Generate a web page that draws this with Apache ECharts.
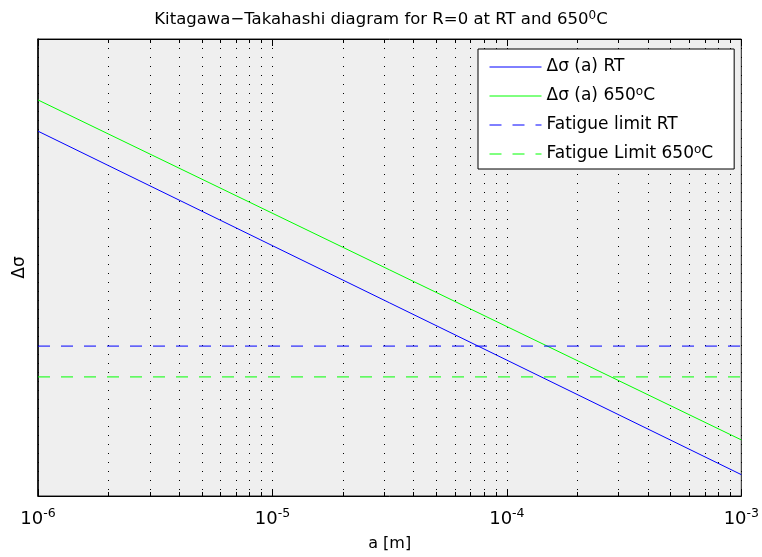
<!DOCTYPE html>
<html><head><meta charset="utf-8">
<script src="https://cdn.jsdelivr.net/npm/echarts@6/dist/echarts.min.js"></script>
<style>html,body{margin:0;padding:0;background:#fff}#c{width:762px;height:557px}</style>
</head><body><div id="c"></div>
<script>
// ---- data ----
const crackLength = [1e-6, 1e-3];          // a [m]
const deltaSigmaRT = [3950, 124];           // Δσ(a) RT
const deltaSigma650 = [5410, 176];          // Δσ(a) 650°C
const fatigueLimitRT = [453, 453];
const fatigueLimit650 = [332, 332];
const xTickValues = [1e-6, 1e-5, 1e-4, 1e-3];
const seriesNames = ['Δσ (a) RT', 'Δσ (a) 650°C', 'Fatigue limit RT', 'Fatigue Limit 650°C'];

const minorTicks = [];
for (let d = 0; d < xTickValues.length - 1; d++) {
  for (let k = 2; k <= 9; k++) minorTicks.push(+(k * xTickValues[d]).toPrecision(3));
}
const FONT = '"DejaVu Sans", "Liberation Sans", Arial, sans-serif';
const zip = (xs, ys) => xs.map((x, i) => [x, ys[i]]);

const baseX = { type: 'log', logBase: 10, min: 1e-6, max: 1e-3, gridIndex: 0 };
const chart = echarts.init(document.getElementById('c'));
chart.setOption({
  animation: false,
  backgroundColor: '#fff',
  title: {
    text: 'Kitagawa−Takahashi diagram for R=0 at RT and 650{sup|0}C',
    left: 'center', top: 5,
    textStyle: { fontFamily: FONT, fontSize: 16.5, fontWeight: 'normal', color: '#000',
      rich: { sup: { fontFamily: FONT, fontSize: 12, color: '#000', padding: [0, 0, 8, 0] } } }
  },
  grid: { left: 38, right: 18, top: 39, bottom: 61, show: true, backgroundColor: '#efefef',
    borderColor: '#222', borderWidth: 1 },
  legend: {
    orient: 'vertical', left: 478, top: 49,
    backgroundColor: '#fff', borderColor: '#000', borderWidth: 1, borderRadius: 0,
    padding: [8, 21, 5, 11], itemWidth: 52, itemHeight: 14, itemGap: 9,
    icon: 'inherit',
    lineStyle: { width: 1 },
    itemStyle: { opacity: 0 },
    data: seriesNames,
    formatter: n => n.replace('°', '{sup|o}'),
    textStyle: { fontFamily: FONT, fontSize: 17, color: '#000', lineHeight: 20,
      rich: { sup: { fontFamily: FONT, fontSize: 12, color: '#000', lineHeight: 20, padding: [0, 0, 8, 0] } } }
  },
  xAxis: [
    Object.assign({}, baseX, {
      position: 'bottom', name: 'a [m]', nameLocation: 'middle', nameGap: 40,
      nameTextStyle: { fontFamily: FONT, fontSize: 16, color: '#000' },
      axisLine: { show: true, onZero: false, lineStyle: { color: '#000', width: 1 } },
      axisTick: { show: true, inside: true, length: 7, customValues: xTickValues, lineStyle: { color: '#000' } },
      axisLabel: { show: true, customValues: xTickValues, margin: 11, color: '#000',
        fontFamily: FONT, fontSize: 18,
        formatter: v => '10{s|' + Math.round(Math.log10(v)) + '}',
        rich: { s: { fontFamily: FONT, fontSize: 12.5, color: '#000', padding: [0, 0, 11, 0] } } },
      splitLine: { show: true, lineStyle: { color: '#000', width: 1, type: [1, 8] } }
    }),
    Object.assign({}, baseX, {
      position: 'bottom',
      axisLine: { show: false, onZero: false },
      axisTick: { show: true, inside: true, length: 4, customValues: minorTicks, lineStyle: { color: '#000' } },
      axisLabel: { show: false },
      splitLine: { show: true, lineStyle: { color: '#000', width: 1, type: [1, 8] } }
    }),
    Object.assign({}, baseX, {
      position: 'top',
      axisLine: { show: true, onZero: false, lineStyle: { color: '#000', width: 1 } },
      axisTick: { show: true, inside: true, length: 7, customValues: xTickValues, lineStyle: { color: '#000' } },
      axisLabel: { show: false },
      splitLine: { show: false }
    }),
    Object.assign({}, baseX, {
      position: 'top',
      axisLine: { show: false, onZero: false },
      axisTick: { show: true, inside: true, length: 4, customValues: minorTicks, lineStyle: { color: '#000' } },
      axisLabel: { show: false },
      splitLine: { show: false }
    })
  ],
  yAxis: {
    type: 'log', logBase: 10, min: 100, max: 10000,
    name: 'Δσ', nameLocation: 'middle', nameGap: 10,
    nameTextStyle: { fontFamily: FONT, fontSize: 17, color: '#000' },
    axisLine: { show: true, onZero: false, lineStyle: { color: '#000', width: 1.5 } },
    axisTick: { show: false }, axisLabel: { show: false }, splitLine: { show: false }
  },
  series: [
    { name: seriesNames[0], type: 'line', xAxisIndex: 0, symbol: 'none', data: zip(crackLength, deltaSigmaRT),
      lineStyle: { color: '#0000ff', width: 1 }, itemStyle: { color: '#0000ff' } },
    { name: seriesNames[1], type: 'line', xAxisIndex: 0, symbol: 'none', data: zip(crackLength, deltaSigma650),
      lineStyle: { color: '#00ff00', width: 1 }, itemStyle: { color: '#00ff00' } },
    { name: seriesNames[2], type: 'line', xAxisIndex: 0, symbol: 'none', data: zip(crackLength, fatigueLimitRT),
      lineStyle: { color: '#0000ff', width: 1, type: [12, 11] }, itemStyle: { color: '#0000ff' } },
    { name: seriesNames[3], type: 'line', xAxisIndex: 0, symbol: 'none', data: zip(crackLength, fatigueLimit650),
      lineStyle: { color: '#00ff00', width: 1, type: [12, 11] }, itemStyle: { color: '#00ff00' } }
  ]
});
</script></body></html>
